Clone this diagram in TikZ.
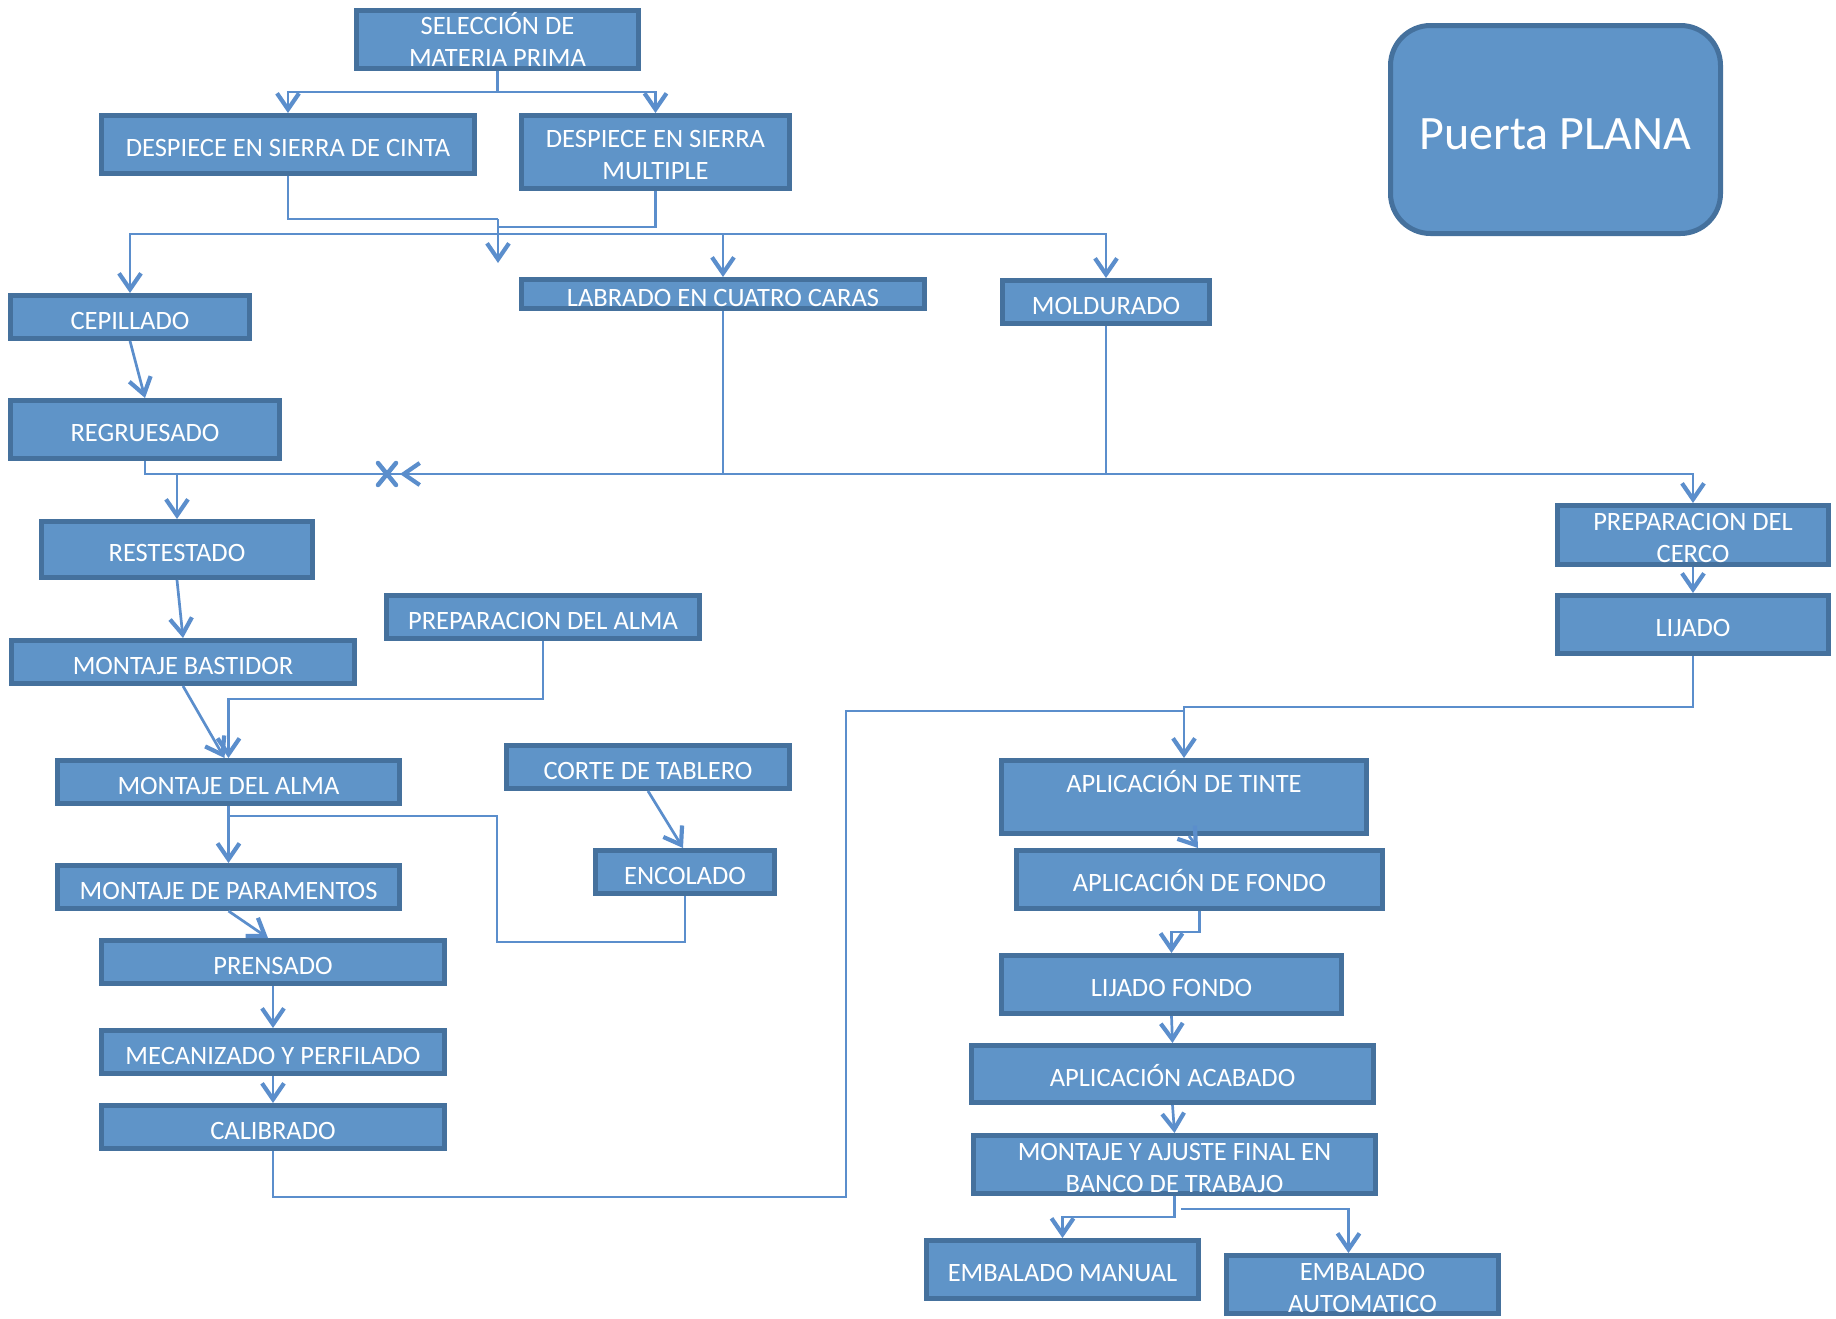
\documentclass[tikz,border=0pt]{standalone}
\usepackage{fontspec}
\setmainfont{Carlito}
\usetikzlibrary{arrows.meta,calc}
\definecolor{boxfill}{HTML}{5F94C8}
\definecolor{boxline}{HTML}{45719D}
\definecolor{conncol}{HTML}{5B8ECC}
\newcommand{\mlup}{\rule{0pt}{24pt}}
\begin{document}
\begin{tikzpicture}[x=1pt,y=-1pt,
  box/.style={draw=boxline, line width=5pt, fill=boxfill, text=white,
    font=\fontsize{26.5}{32}\selectfont, align=center, inner sep=0pt},
  sl/.style={box, execute at begin node={\rule[-2pt]{0pt}{28pt}}},
  conn/.style={draw=conncol, line width=2.7pt},
  arr/.style={conn, -{Straight Barb[length=16pt,width=22pt,line width=4.2pt]}},
  xmark/.style={draw=conncol, line width=4.5pt, line cap=round}]
\useasboundingbox (0,0) rectangle (1836,1318);

% nodes
\node[box, minimum width=282pt, minimum height=58pt] (sel) at (497.5,39.5) {SELECCIÓN DE\\MATERIA PRIMA};
\node[sl, minimum width=373pt, minimum height=58pt] (cinta) at (288,144.5) {DESPIECE EN SIERRA DE CINTA};
\node[box, minimum width=268pt, minimum height=73pt] (mult) at (655.5,152) {\mlup DESPIECE EN SIERRA\\MULTIPLE};
\node[sl, minimum width=239pt, minimum height=43pt] (cep) at (130,317) {CEPILLADO};
\node[sl, minimum width=403pt, minimum height=29pt] (lab) at (723,294) {LABRADO EN CUATRO CARAS};
\node[sl, minimum width=207pt, minimum height=43pt] (mold) at (1106,302) {MOLDURADO};
\node[sl, minimum width=269pt, minimum height=58pt] (reg) at (145,429.5) {REGRUESADO};
\node[sl, minimum width=271pt, minimum height=56pt] (rest) at (177,549.5) {RESTESTADO};
\node[sl, minimum width=343pt, minimum height=43pt] (bast) at (183,662) {MONTAJE BASTIDOR};
\node[sl, minimum width=313pt, minimum height=43pt] (palma) at (543,617) {PREPARACION DEL ALMA};
\node[sl, minimum width=342pt, minimum height=43pt] (malma) at (228.5,782) {MONTAJE DEL ALMA};
\node[sl, minimum width=283pt, minimum height=43pt] (corte) at (648,767) {CORTE DE TABLERO};
\node[sl, minimum width=179pt, minimum height=43pt] (enc) at (685,872) {ENCOLADO};
\node[sl, minimum width=342pt, minimum height=43pt] (param) at (228.5,887) {MONTAJE DE PARAMENTOS};
\node[sl, minimum width=343pt, minimum height=43pt] (prens) at (273,962) {PRENSADO};
\node[sl, minimum width=343pt, minimum height=43pt] (mec) at (273,1052) {MECANIZADO Y PERFILADO};
\node[sl, minimum width=343pt, minimum height=43pt] (cal) at (273,1127) {CALIBRADO};
\node[box, minimum width=271pt, minimum height=59pt] (cerco) at (1693,535) {\mlup PREPARACION DEL\\CERCO};
\node[sl, minimum width=271pt, minimum height=58pt] (lij) at (1693,624.5) {LIJADO};
\node[box, minimum width=365pt, minimum height=73pt] (tinte) at (1184,797) {APLICACIÓN DE TINTE\\~};
\node[sl, minimum width=366pt, minimum height=58pt] (fondo) at (1199.5,879.5) {APLICACIÓN DE FONDO};
\node[sl, minimum width=340pt, minimum height=58pt] (ljf) at (1171.5,984.5) {LIJADO FONDO};
\node[sl, minimum width=402pt, minimum height=57pt] (acab) at (1172.5,1074) {APLICACIÓN ACABADO};
\node[box, minimum width=402pt, minimum height=58pt] (maj) at (1174.5,1164.5) {\mlup MONTAJE Y AJUSTE FINAL EN\\BANCO DE TRABAJO};
\node[sl, minimum width=272pt, minimum height=58pt] (eman) at (1062.5,1269.5) {EMBALADO MANUAL};
\node[box, minimum width=272pt, minimum height=58pt] (eauto) at (1362.5,1284.5) {\mlup EMBALADO\\AUTOMATICO};
\node[box, rounded corners=40pt, minimum width=330pt, minimum height=208pt,
  font=\fontsize{48}{58}\selectfont] (title) at (1555.5,129.5) {\rule[-4pt]{0pt}{48pt}Puerta PLANA};

% junction coordinates
\coordinate (j1) at (497.5,92);
\coordinate (j2) at (498,219);
\coordinate (j3) at (498,227);
\coordinate (j4) at (498,234);
\coordinate (d1) at (498,263);
\coordinate (r1) at (145,474);
\coordinate (r2) at (177,474);
\coordinate (l1) at (723,474);
\coordinate (m1) at (1106,474);
\coordinate (tipL) at (400,474);
\coordinate (xm) at (387,474);
\coordinate (a1) at (543,699);
\coordinate (b1) at (228.5,816);
\coordinate (b2) at (497,942);
\coordinate (c1) at (273,1197);
\coordinate (c2) at (846,711);
\coordinate (c3) at (1184,711);
\coordinate (k1) at (1693,707);
\coordinate (f1) at (1199.5,932);
\coordinate (e1) at (1174.5,1217);
\coordinate (e2) at (1181,1209);

% connectors
\draw[conn] (sel.south) -- (j1);
\draw[arr] (j1) -| (cinta.north);
\draw[arr] (j1) -| (mult.north);
\draw[conn] (cinta.south) |- (j2);
\draw[arr] (j2) -- (d1);
\draw[conn] (mult.south) |- (j3);
\draw[arr] (j4) -| (cep.north);
\draw[arr] (j4) -| (lab.north);
\draw[arr] (j4) -| (mold.north);
\draw[arr] (cep.south) -- (reg.north);
\draw[arr] (reg.south) -- (r1) -| (cerco.north);
\draw[arr] (r2) -- (rest.north);
\draw[conn] (lab.south) -- (l1);
\draw[conn] (mold.south) -- (m1);
\draw[arr] (l1) -- (tipL);
\draw[xmark] ($(xm)+(-9,-11)$) -- ($(xm)+(9,11)$);
\draw[xmark] ($(xm)+(-9,11)$) -- ($(xm)+(9,-11)$);
\draw[arr] (rest.south) -- (bast.north);
\draw[arr] (bast.south) -- ($(malma.north)+(-4,0)$);
\draw[arr] (palma.south) -- (a1) -| (malma.north);
\draw[arr] (malma.south) -- (param.north);
\draw[conn] (b1) -| (b2) -| (enc.south);
\draw[arr] (corte.south) -- ($(enc.north)+(-2,0)$);
\draw[arr] (param.south) -- ($(prens.north)+(-5,0)$);
\draw[arr] (prens.south) -- (mec.north);
\draw[arr] (mec.south) -- (cal.north);
\draw[conn] (cal.south) -- (c1) -| (c2) -- (c3);
\draw[arr] (cerco.south) -- (lij.north);
\draw[arr] (lij.south) -- (k1) -| (tinte.north);
\draw[arr] ($(tinte.south)+(5,0)$) -- ($(fondo.north)+(-1.5,0)$);
\draw[arr] (fondo.south) -- (f1) -| (ljf.north);
\draw[arr] (ljf.south) -- (acab.north);
\draw[arr] (acab.south) -- (maj.north);
\draw[arr] (maj.south) -- (e1) -| (eman.north);
\draw[arr] (e2) -| ($(eauto.north)+(-14,0)$);
\end{tikzpicture}
\end{document}
